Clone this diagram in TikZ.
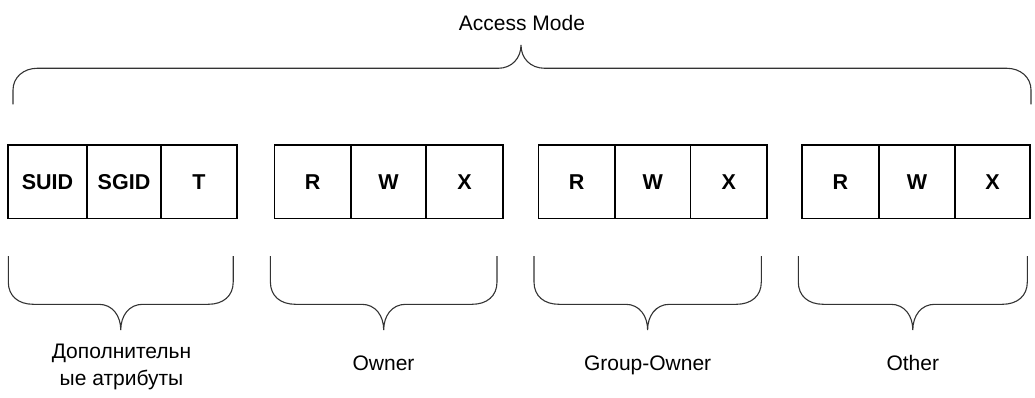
\documentclass[tikz,border=0pt]{standalone}
\usepackage{fontspec}
\setmainfont{Liberation Sans}
\begin{document}
\begin{tikzpicture}[x=1pt,y=-1pt,
  cell/.style={draw, line width=1.6pt, minimum height=73.5pt, inner sep=0pt,
    font=\bfseries\fontsize{21.5}{24}\selectfont},
  bracepath/.style={draw=black!80, line width=1.1pt},
  lbl/.style={font=\fontsize{21}{26.3}\selectfont, align=center, inner sep=0pt}]
\useasboundingbox (0,0) rectangle (1035,398);
\newcommand{\lowbrace}[3]{%
  \path[bracepath] (#1,256) -- (#1,282) .. controls (#1,296) and ({#1+10},304.3) .. ({#1+25},304.3)
    -- ({#3-22},304.3) .. controls ({#3-8},304.3) and (#3,316) .. (#3,330)
    .. controls (#3,316) and ({#3+8},304.3) .. ({#3+22},304.3)
    -- ({#2-25},304.3) .. controls ({#2-10},304.3) and (#2,296) .. (#2,282) -- (#2,256);}
% cells
\node[cell, minimum width=79pt] (suid) at (47.5,181.75) {SUID};
\node[cell, minimum width=74pt] (sgid) at (124,181.75) {SGID};
\node[cell, minimum width=76pt] (t) at (199,181.75) {T};
\node[cell, minimum width=76.5pt] (r1) at (312.75,181.75) {R};
\node[cell, minimum width=75pt] (w1) at (388.5,181.75) {W};
\node[cell, minimum width=77pt] (x1) at (464.5,181.75) {X};
\node[cell, minimum width=76.5pt] (r2) at (576.75,181.75) {R};
\node[cell, minimum width=75.5pt] (w2) at (652.75,181.75) {W};
\node[cell, minimum width=76.5pt] (x2) at (728.75,181.75) {X};
\node[cell, minimum width=77pt] (r3) at (840.5,181.75) {R};
\node[cell, minimum width=76pt] (w3) at (917,181.75) {W};
\node[cell, minimum width=75pt] (x3) at (992.5,181.75) {X};
% top brace
\path[bracepath] (13,104.5) -- (13,90) .. controls (13,77) and (24,68.3) .. (37,68.3)
  -- (498,68.3) .. controls (512,68.3) and (521,58) .. (521,45)
  .. controls (521,58) and (530,68.3) .. (545,68.3)
  -- (1007,68.3) .. controls (1020,68.3) and (1031,77) .. (1031,90) -- (1031,104.5);
\node[lbl, anchor=base] (access) at (522,31) {Access Mode};
% bottom braces
\lowbrace{8.3}{233.2}{120.75}
\lowbrace{270.4}{497}{383.7}
\lowbrace{534}{761.3}{647.6}
\lowbrace{798.3}{1027.3}{912.8}
\node[lbl, anchor=base] (extra) at (121.5,385) {Дополнительн\\ые атрибуты};
\node[lbl, anchor=base] (owner) at (383.5,370.5) {Owner};
\node[lbl, anchor=base] (group) at (647.6,370.5) {Group-Owner};
\node[lbl, anchor=base] (other) at (912.8,370.5) {Other};
\end{tikzpicture}
\end{document}
